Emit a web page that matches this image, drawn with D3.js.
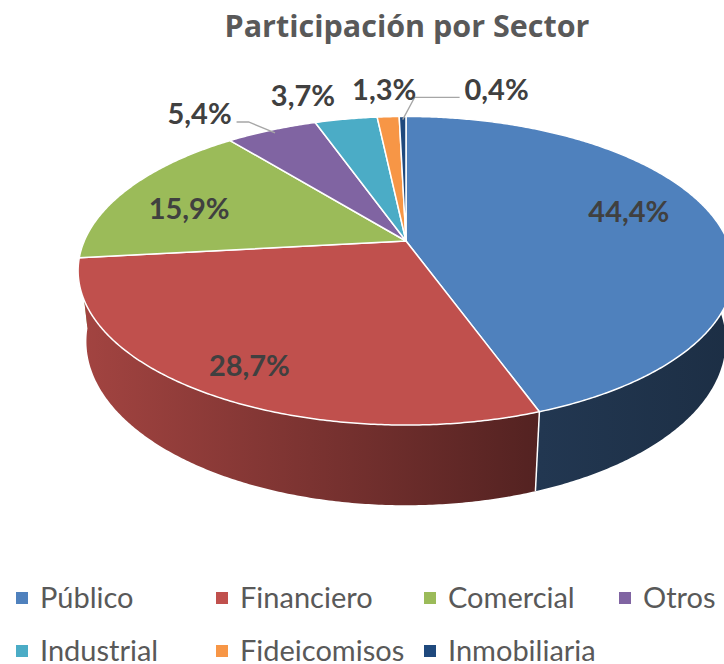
<!DOCTYPE html>
<html lang="es">
<head>
  <meta charset="UTF-8" />
  <title>Participación por Sector</title>
  <script src="https://d3js.org/d3.v7.min.js"></script>
  <style>
    html, body { margin: 0; padding: 0; background: #fff; overflow: hidden; }
    svg { display: block; font-family: Lato, "Open Sans", sans-serif; }
  </style>
</head>
<body>
  <svg id="chart" width="724" height="664"></svg>
  <script>
    // ---- data ----
    const categories = ["Público", "Financiero", "Comercial", "Otros", "Industrial", "Fideicomisos", "Inmobiliaria"];
    const values = [44.4, 28.7, 15.9, 5.4, 3.7, 1.3, 0.4];
    const colors = ["#4F81BD", "#C0504D", "#9BBB59", "#8064A2", "#4BACC6", "#F79646", "#1F497D"];

    // label placement per slice (style only)
    // inside: radius fraction (+ small nudge); outside: offset from rim point + leader hook
    const labelStyle = [
      { r: 0.72, dy: -11 },
      { r: 0.80, dy: 8 },
      { r: 0.77, dy: 9 },
      { dx: -72, dy: -16, hook: -12 },
      { dx: -43, dy: -24 },
      { dx: -4,  dy: -27 },
      { dx: 94,  dy: -27, hook: 45 }
    ];
    const legendCols = [22, 222, 430, 625];
    const legendRows = [598, 651];

    const svg = d3.select("#chart");
    const defs = svg.append("defs");

    // ---- simple perspective camera for the 3D pie ----
    const cx = 406, cy = 241;       // projected centre of the top face
    const tilt = 27.5 * Math.PI / 180;
    const sinP = Math.sin(tilt), cosP = Math.cos(tilt);
    const D = 4.6, F = 1480;        // camera distance / focal (pie radius = 1)
    const thick = 0.25;

    function project(theta, r, y) {
      const X = r * Math.sin(theta), Z = -r * Math.cos(theta);
      const yc = Z * sinP - y * cosP;
      const zc = Z * cosP + y * sinP;
      const depth = D - zc;
      return [cx + F * X / depth, cy + F * yc / depth, depth];
    }

    const pie = d3.pie().sort(null).value(d => d)
      .startAngle(0).endAngle(2 * Math.PI);
    const arcs = pie(values);

    const deg = Math.PI / 180;
    const line = d3.line();

    // side shade depends on horizontal screen position (lighter on the left)
    const shadeX = [80, 540, 740];
    const shadeK = [0.85, 0.43, 0.36];
    function darken(c, f) {
      const k = d3.rgb(c);
      return d3.rgb(k.r * f, k.g * f, k.b * f).formatHex();
    }

    // ---- side walls (one path per slice, horizontal gradient), far ones first ----
    const walls = [];
    arcs.forEach((a, i) => {
      const lo = Math.max(a.startAngle, 90 * deg);
      const hi = Math.min(a.endAngle, 270 * deg);
      if (hi <= lo) return;
      const n = Math.max(2, Math.ceil((hi - lo) / (0.5 * deg)));
      const topPts = [], botPts = [];
      for (let k = 0; k <= n; k++) {
        const t = lo + (hi - lo) * k / n;
        const p = project(t, 1, 0), q = project(t, 1, -thick);
        topPts.push([p[0], p[1]]);
        botPts.push([q[0], q[1]]);
      }
      const grad = defs.append("linearGradient")
        .attr("id", "side" + i)
        .attr("gradientUnits", "userSpaceOnUse")
        .attr("x1", shadeX[0]).attr("x2", shadeX[2])
        .attr("y1", 0).attr("y2", 0);
      shadeX.forEach((x, j) => {
        grad.append("stop")
          .attr("offset", (x - shadeX[0]) / (shadeX[2] - shadeX[0]))
          .attr("stop-color", darken(colors[i], shadeK[j]));
      });
      walls.push({
        i,
        d: line(topPts.concat(botPts.reverse())) + "Z",
        depth: project((lo + hi) / 2, 1, 0)[2]
      });
    });
    walls.sort((a, b) => b.depth - a.depth);

    svg.append("g").selectAll("path")
      .data(walls)
      .join("path")
      .attr("d", d => d.d)
      .attr("fill", d => `url(#side${d.i})`);

    // white seams where slices meet on the visible wall
    const seams = arcs.map(a => a.startAngle).filter(t => t > 100 * deg && t < 260 * deg);
    svg.append("g").selectAll("line")
      .data(seams)
      .join("line")
      .attr("x1", t => project(t, 1, 0)[0])
      .attr("y1", t => project(t, 1, 0)[1])
      .attr("x2", t => project(t, 1, -thick)[0])
      .attr("y2", t => project(t, 1, -thick)[1])
      .attr("stroke", "#fff")
      .attr("stroke-width", 1.5);

    // ---- top face slices ----
    function topPath(a) {
      const pts = [project(0, 0, 0)];
      const n = Math.max(2, Math.ceil((a.endAngle - a.startAngle) / (0.5 * deg)));
      for (let k = 0; k <= n; k++) {
        const t = a.startAngle + (a.endAngle - a.startAngle) * k / n;
        pts.push(project(t, 1, 0));
      }
      return line(pts.map(p => [p[0], p[1]])) + "Z";
    }

    svg.append("g").selectAll("path")
      .data(arcs)
      .join("path")
      .attr("d", topPath)
      .attr("fill", (d, i) => colors[i])
      .attr("stroke", "#fff")
      .attr("stroke-width", 1.5)
      .attr("stroke-linejoin", "round");

    // ---- data labels ----
    const fmt = v => d3.format(".1f")(v).replace(".", ",") + "%";
    const leaderG = svg.append("g");
    const labelG = svg.append("g")
      .attr("font-size", 29)
      .attr("font-weight", "bold")
      .attr("fill", "#404040")
      .attr("text-anchor", "middle");

    arcs.forEach((a, i) => {
      const st = labelStyle[i];
      const mid = (a.startAngle + a.endAngle) / 2;
      let x, y;
      if (st.r !== undefined) {
        [x, y] = project(mid, st.r, 0);
        y += st.dy || 0;
      } else {
        const rim = project(mid, 1, 0);
        x = rim[0] + st.dx;
        y = rim[1] + st.dy;
        if (st.hook) {
          const p0 = project(mid, 0.97, 0);
          const half = 32;
          const sx = st.hook < 0 ? x + half + 5 : x - half - 5;
          const ly = y + 8;
          leaderG.append("path")
            .attr("d", line([[sx, ly], [sx - st.hook, ly], [p0[0], p0[1]]]))
            .attr("fill", "none")
            .attr("stroke", "#A6A6A6")
            .attr("stroke-width", 1.3);
        }
      }
      labelG.append("text")
        .attr("x", x)
        .attr("y", y)
        .attr("dy", "0.36em")
        .text(fmt(values[i]));
    });

    // ---- title ----
    svg.append("text")
      .attr("x", 407)
      .attr("y", 37)
      .attr("text-anchor", "middle")
      .attr("font-family", "'Open Sans', Lato, sans-serif")
      .attr("font-size", 30.5)
      .attr("font-weight", "bold")
      .attr("fill", "#595959")
      .text("Participación por Sector");

    // ---- legend ----
    const legend = svg.append("g");
    categories.forEach((c, i) => {
      const row = i < 4 ? 0 : 1;
      const col = i < 4 ? i : i - 4;
      const g = legend.append("g")
        .attr("transform", `translate(${legendCols[col]},${legendRows[row]})`);
      g.append("rect")
        .attr("x", -6).attr("y", -6)
        .attr("width", 12).attr("height", 12)
        .attr("fill", colors[i]);
      g.append("text")
        .attr("x", 18)
        .attr("dy", "0.36em")
        .attr("font-size", 29)
        .attr("fill", "#595959")
        .text(c);
    });
  </script>
</body>
</html>
